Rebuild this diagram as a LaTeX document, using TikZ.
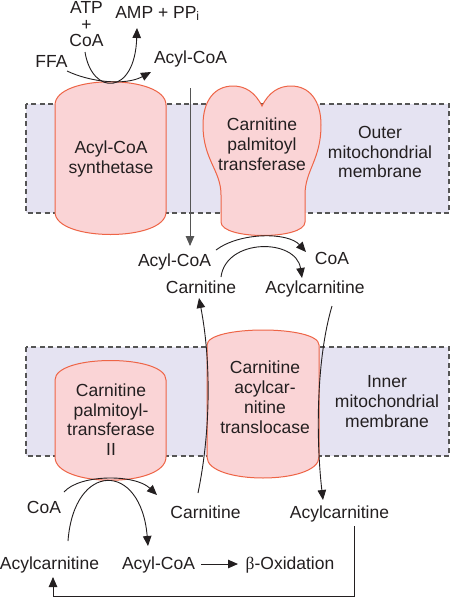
\documentclass[tikz,border=0pt]{standalone}
\usepackage{fontspec}
\setmainfont{Liberation Sans}
\newfontfamily\betafont{Liberation Serif}
\usetikzlibrary{arrows.meta}
\definecolor{band}{HTML}{E5E3F2}
\definecolor{enzfill}{HTML}{FAD4D6}
\definecolor{enzline}{HTML}{EE6446}
\definecolor{ink}{HTML}{231F20}
\definecolor{dashc}{HTML}{555555}
\tikzset{
 lbl/.style={font=\fontsize{17.5}{19.7}\selectfont, text=ink, inner sep=0pt, anchor=base},
 mlbl/.style={font=\fontsize{17.5}{19.7}\selectfont, text=ink, inner sep=0pt, align=center},
 membrane/.style={fill=band, draw=dashc, dash pattern=on 5pt off 3.5pt, line width=1.1pt},
 enzyme/.style={fill=enzfill, draw=enzline, line width=1pt},
 flow/.style={draw=ink, line width=0.9pt, -{Triangle[length=10pt,width=8.5pt]}},
}
\begin{document}
\begin{tikzpicture}[x=1pt,y=-1pt]
\useasboundingbox (0,0) rectangle (450,598);
\fill[white] (0,0) rectangle (450,598);
% membranes
\path[membrane] (26,104) rectangle (449,213);
\path[membrane] (26,347) rectangle (449,456);
% enzymes
\path[enzyme] (55,105) .. controls (55,74) and (166,74) .. (166,105) -- (166,212) .. controls (166,242) and (55,242) .. (55,212) -- cycle;
\path[enzyme] (262,106) .. controls (255,92) and (245,86) .. (233,86)
  .. controls (215,86) and (203,100) .. (203,125)
  .. controls (203,160) and (221,170) .. (221,195)
  -- (221,222) .. controls (221,240) and (305,240) .. (305,222)
  -- (305,195) .. controls (305,170) and (321,160) .. (321,125)
  .. controls (321,100) and (309,86) .. (291,86)
  .. controls (279,86) and (269,92) .. (262,106) -- cycle;
\path[enzyme] (207,345) .. controls (207,325) and (319,325) .. (319,345) -- (319,457) .. controls (319,485) and (207,485) .. (207,457) -- cycle;
\path[enzyme] (55,380) .. controls (55,354) and (166,354) .. (166,380) -- (166,457) .. controls (166,488) and (55,488) .. (55,457) -- cycle;
% enzyme and membrane labels
\node[mlbl] (acs) at (111,159) {Acyl-CoA\\synthetase};
\node[mlbl] (cpt1) at (262,144.2) {Carnitine\\palmitoyl\\transferase};
\node[mlbl] (outer) at (380,152.2) {Outer\\mitochondrial\\membrane};
\node[mlbl] (cact) at (265,397.2) {Carnitine\\acylcar-\\nitine\\translocase};
\node[mlbl] (inner) at (387,401.7) {Inner\\mitochondrial\\membrane};
\node[mlbl] (cpt2) at (111,419.7) {Carnitine\\palmitoyl-\\transferase\\II};
% metabolite labels
\node[mlbl, font=\fontsize{17.5}{16.5}\selectfont] (atpcoa) at (86.5,24.2) {ATP\\+\\CoA};
\node[lbl] (amp) at (157.5,18) {AMP + PP\textsubscript{i}};
\node[lbl] (ffa) at (51.5,67) {FFA};
\node[lbl] (acoa1) at (190.5,63) {Acyl-CoA};
\node[lbl] (acoa2) at (174.5,266) {Acyl-CoA};
\node[lbl] (coa2) at (332,264) {CoA};
\node[lbl] (carn2) at (201,293) {Carnitine};
\node[lbl] (acarn2) at (315,293) {Acylcarnitine};
\node[lbl] (coa3) at (44,513) {CoA};
\node[lbl] (carn3) at (205.5,518) {Carnitine};
\node[lbl] (acarn3) at (339.5,518) {Acylcarnitine};
\node[lbl] (acarn4) at (49.5,569) {Acylcarnitine};
\node[lbl] (acoa4) at (158.5,569) {Acyl-CoA};
\node[lbl] (box) at (290,569) {{\betafont β}-Oxidation};
% connector end points
\coordinate (c1s) at (85,52);   \coordinate (c1e) at (137,28);
\coordinate (c2s) at (67,71);   \coordinate (c2e) at (151,72);
\coordinate (c3s) at (190,88);  \coordinate (c3e) at (190,246);
\coordinate (c4s) at (216,250); \coordinate (c4e) at (306,252);
\coordinate (c5s) at (221,277); \coordinate (c5e) at (302,278);
\coordinate (c6s) at (198,493); \coordinate (c6e) at (199,298);
\coordinate (c7s) at (332,306); \coordinate (c7e) at (323,500);
\coordinate (c8s) at (64,492);  \coordinate (c8e) at (157,495);
\coordinate (c9s) at (68,541);  \coordinate (c9e) at (148,546);
\coordinate (c10s) at (201,564); \coordinate (c10e) at (238,564);
\coordinate (c11s) at (354,526); \coordinate (c11e) at (53,577);
% connectors
\draw[flow] (c1s) .. controls (92,96) and (135,96) .. (c1e);
\draw[flow] (c2s) .. controls (90,82) and (125,86) .. (c2e);
\draw[flow, draw=dashc] (c3s) -- (c3e);
\draw[flow] (c4s) .. controls (240,232) and (288,232) .. (c4e);
\draw[flow] (c5s) .. controls (226,238) and (296,238) .. (c5e);
\draw[flow] (c6s) .. controls (211,430) and (211,360) .. (c6e);
\draw[flow] (c7s) .. controls (316,360) and (316,440) .. (c7e);
\draw[flow] (c8s) .. controls (80,474) and (135,474) .. (c8e);
\draw[flow] (c9s) .. controls (74,461) and (141,461) .. (c9e);
\draw[flow] (c10s) -- (c10e);
\draw[flow] (c11s) -- (354,596) -- (53,596) -- (c11e);
\end{tikzpicture}
\end{document}
